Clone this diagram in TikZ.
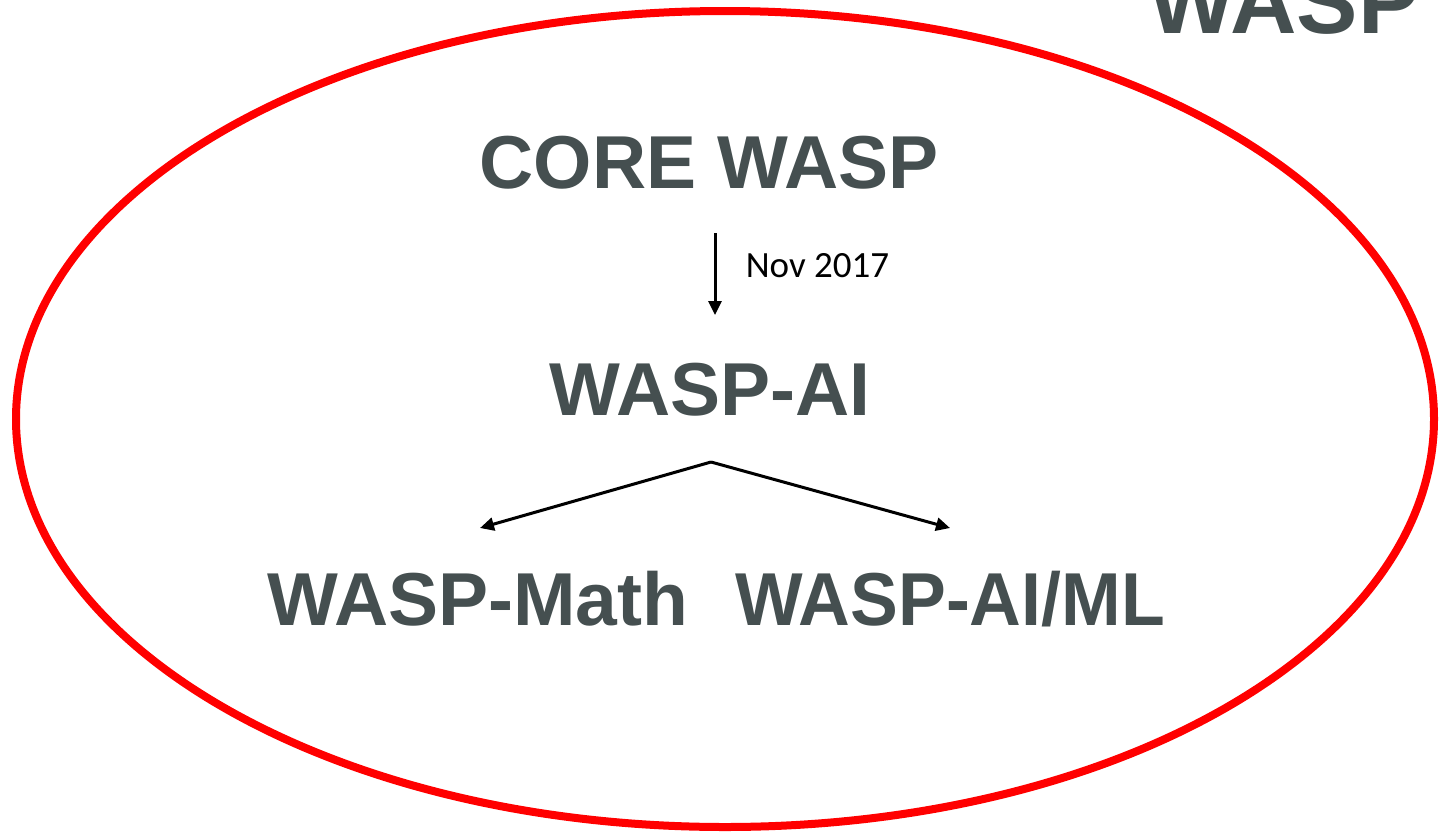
\documentclass[tikz,border=0pt]{standalone}
\usepackage{fontspec}
\usepackage{xcolor}
\usepackage{tikz}
\usetikzlibrary{positioning,arrows.meta,calc}

\setmainfont{Liberation Sans}
\newfontfamily\labelfont{Carlito}
\definecolor{slate}{HTML}{454F50}
\definecolor{ringred}{HTML}{FF0000}

\begin{document}
\begin{tikzpicture}[
    x=1pt, y=-1pt,
    title/.style={text=slate, font=\fontsize{75}{80}\selectfont\bfseries, inner sep=0pt, anchor=base},
    link/.style={line width=3pt, -{Triangle[length=14pt,width=13pt]}},
  ]
  \useasboundingbox (0,0) rectangle (1439,833);

  % Outer ring
  \draw[ringred, line width=8pt] (725,419) ellipse [x radius=709, y radius=408];

  % Titles
  \node[title, font=\fontsize{92}{96}\selectfont\bfseries] (wasp) at (1284,33) {WASP};
  \node[title] (core) at (709,188)  {CORE WASP};
  \node[title] (ai)   at (710,415)  {WASP-AI};
  \node[title] (math) at (478,625)  {WASP-Math};
  \node[title] (aiml) at (950,625)  {\scalebox{0.955}[1]{WASP-AI/ML}};

  % Arrow ends
  \coordinate (top)   at (715,233);
  \coordinate (bot)   at (715,315);
  \coordinate (split) at (711,462);
  \coordinate (left)  at (480,528);
  \coordinate (right) at (950,528);

  % Connectors
  \draw[link] (top) -- node[right=26pt, pos=0.4, font=\labelfont\fontsize{37}{40}\selectfont] (date) {Nov 2017} (bot);
  \draw[link] (split) -- (left);
  \draw[link] (split) -- (right);
\end{tikzpicture}
\end{document}
